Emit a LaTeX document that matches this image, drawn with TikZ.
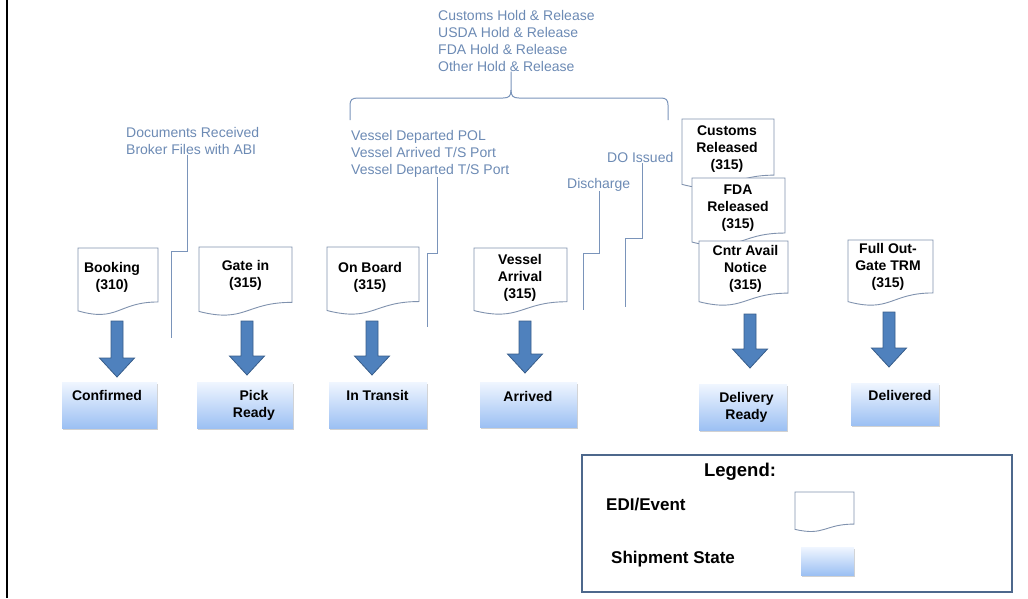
\documentclass[tikz,border=0pt]{standalone}
\usepackage{fontspec}
\setmainfont{Liberation Sans}
\usetikzlibrary{shadows}

\definecolor{labelblue}{RGB}{108,138,180}
\definecolor{connblue}{RGB}{122,148,186}
\definecolor{docline}{RGB}{128,146,174}
\definecolor{arrowfill}{RGB}{79,129,189}
\definecolor{arrowdraw}{RGB}{56,93,138}
\definecolor{statetop}{RGB}{240,246,255}
\definecolor{statebot}{RGB}{156,192,243}
\definecolor{legendframe}{RGB}{77,104,140}

\tikzset{
  note/.style={text=labelblue, font=\fontsize{14}{17}\selectfont, align=left,
    inner sep=0pt, anchor=north west},
  conn/.style={draw=connblue, line width=1pt},
  docshape/.style={fill=white, draw=docline, line width=0.9pt},
  doclabel/.style={font=\bfseries\fontsize{14}{17}\selectfont, align=center, inner sep=0pt},
  statebox/.style={top color=statetop, bottom color=statebot, draw=none,
    inner sep=0pt,
    drop shadow={shadow xshift=0.6pt, shadow yshift=-2.2pt, opacity=0.3, fill=black!60}},
  blkarrow/.style={fill=arrowfill, draw=arrowdraw, line width=0.8pt},
  legendtext/.style={font=\bfseries\fontsize{17}{20}\selectfont, inner sep=0pt},
}

% EDI document outline: left, top, right, wave scale
\newcommand\edidoc[4]{%
  \path[docshape] (#1,#2) -- (#3,#2) -- (#3,{#2+0.802*#4})
    .. controls ({(#1+#3)/2},{#2+0.802*#4}) and ({(#1+#3)/2},{#2+1.107*#4}) ..
    (#1,{#2+0.934*#4}) -- cycle;}

% downward block arrow: name, centre x, top y, tip y
\newcommand\blockdown[4]{%
  \path[blkarrow] (#2-6,#3) -- (#2+6,#3) -- (#2+6,#4-19) -- (#2+17.5,#4-19)
    -- (#2,#4) -- (#2-17.5,#4-19) -- (#2-6,#4-19) -- cycle;
  \coordinate (#1) at (#2,#4);}

\begin{document}
\begin{tikzpicture}[x=1pt,y=-1pt]
\useasboundingbox (0,0) rectangle (1028,598);

% page rule on the left
\draw[line width=2pt] (6.5,0) -- (6.5,598);

% ---------- annotations ----------
\node[note] (holds) at (438,10) {Customs Hold \& Release\\USDA Hold \& Release\\FDA Hold \& Release\\Other Hold \& Release};
\node[note] (docsrecv) at (126,127) {Documents Received\\Broker Files with ABI};
\node[note] (vessel) at (351,130) {Vessel Departed POL\\Vessel Arrived T/S Port\\Vessel Departed T/S Port};
\node[note] (doissued) at (607,152) {DO Issued};
\node[note] (discharge) at (567,178) {Discharge};

% brace grouping the hold events
\draw[conn] (350,120) -- (350,105) .. controls (350,100) and (352,98) .. (358,98)
  -- (503,98) .. controls (509,98) and (511,96) .. (511,90) -- (holds.south -| 511,0);
\draw[conn] (511,90) .. controls (511,96) and (513,98) .. (519,98)
  -- (661,98) .. controls (666,98) and (668,100) .. (668,105) -- (668,120);

% event leader lines
\coordinate (e1) at (171,338);
\coordinate (e2) at (427,327);
\coordinate (e3) at (583,310);
\coordinate (e4) at (625,307);
\draw[conn] (docsrecv.south -| 187,0) |- (171,251) -- (e1);
\draw[conn] (vessel.south -| 437,0) |- (427,253) -- (e2);
\draw[conn] (discharge.south -| 599,0) |- (583,253) -- (e3);
\draw[conn] (doissued.south -| 642,0) |- (625,238) -- (e4);

% ---------- EDI events ----------
\edidoc{78}{248}{158}{67.3}
\node[doclabel] (booking) at (112,277.5) {Booking\\(310)};
\edidoc{199}{247}{292}{69}
\node[doclabel] (gatein) at (245.5,275) {Gate in\\(315)};
\edidoc{327}{247}{419}{68}
\node[doclabel] (onboard) at (370,277) {On Board\\(315)};
\edidoc{474}{248}{567}{67}
\node[doclabel] (varrival) at (520,278) {Vessel\\Arrival\\(315)};
\edidoc{682}{119}{774}{70}
\node[doclabel] (customs) at (727,149) {Customs\\Released\\(315)};
\edidoc{692}{178}{785}{68.6}
\node[doclabel] (fda) at (738,208) {FDA\\Released\\(315)};
\edidoc{699}{241}{788}{65}
\node[doclabel] (cntr) at (745.5,268.5) {Cntr Avail\\Notice\\(315)};
\edidoc{848}{240}{933}{66}
\node[doclabel] (fullout) at (888,267) {Full Out-\\Gate TRM\\(315)};

% ---------- transitions ----------
\blockdown{a1}{117}{321}{377}
\blockdown{a2}{247}{321}{375}
\blockdown{a3}{372}{321}{375}
\blockdown{a4}{525}{321}{373}
\blockdown{a5}{750}{314}{368}
\blockdown{a6}{889}{312}{367}

% ---------- shipment states ----------
\node[statebox, minimum width=95pt, minimum height=46pt] (confirmed) at (109.5,405) {};
\node[doclabel] (confirmedt) at (107,395) {Confirmed};
\node[statebox, minimum width=96pt, minimum height=46pt] (pickready) at (245,405) {};
\node[doclabel] (pickreadyt) at (254,405) {Pick\\Ready};
\node[statebox, minimum width=98pt, minimum height=46pt] (intransit) at (378,405) {};
\node[doclabel] (intransitt) at (377.5,395) {In Transit};
\node[statebox, minimum width=97pt, minimum height=45pt] (arrived) at (528.5,404.5) {};
\node[doclabel] (arrivedt) at (528,396) {Arrived};
\node[statebox, minimum width=88pt, minimum height=46pt] (delready) at (743,407) {};
\node[doclabel] (delreadyt) at (746.5,407) {Delivery\\Ready};
\node[statebox, minimum width=88pt, minimum height=42pt] (delivered) at (895,404) {};
\node[doclabel] (deliveredt) at (900,395) {Delivered};

% ---------- legend ----------
\draw[draw=legendframe, line width=2pt] (582,455) rectangle (1012,592);
\node[font=\bfseries\fontsize{18.5}{22}\selectfont, inner sep=0pt] (legendtitle) at (740,472) {Legend:};
\node[legendtext, anchor=west] (ledi) at (606,505) {EDI/Event};
\edidoc{795}{492}{854}{40}
\node[legendtext, anchor=west] (lstate) at (611,559) {Shipment State};
\node[statebox, minimum width=53pt, minimum height=28pt] (lstatebox) at (827.5,561) {};
\end{tikzpicture}
\end{document}
